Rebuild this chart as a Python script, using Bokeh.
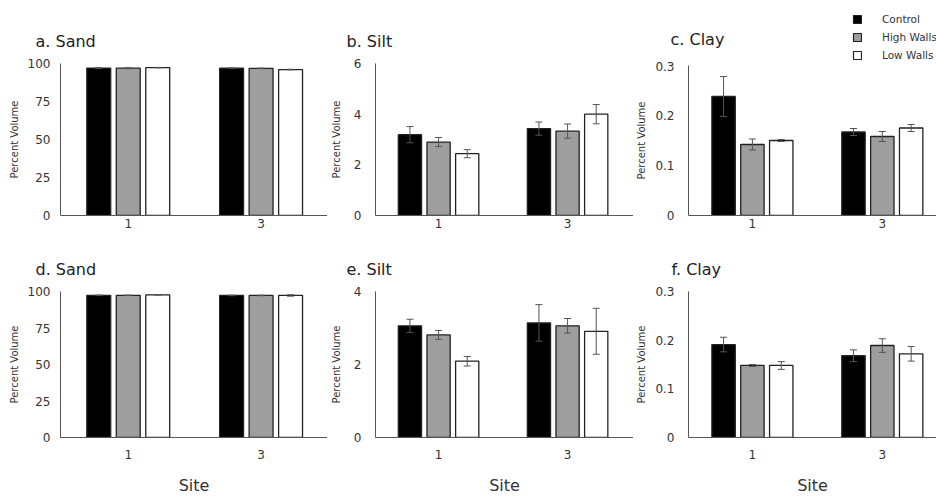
from bokeh.plotting import figure
from bokeh.layouts import column, row
from bokeh.models import (ColumnDataSource, Whisker, TeeHead, FixedTicker, Range1d,
                          Legend, LegendItem, NumeralTickFormatter, Label)
from bokeh.embed import file_html
from bokeh.resources import INLINE

# ---------------- data ----------------
sites = ["1", "3"]
treatments = ["Control", "High Walls", "Low Walls"]
fills = ["#000000", "#9e9e9e", "#ffffff"]

# order: site 1 (Control, High, Low), site 3 (Control, High, Low)
a_sand_mean = [97.0, 96.9, 97.3, 96.9, 96.8, 96.0]
a_sand_err = [0.3, 0.3, 0.15, 0.3, 0.2, 0.2]
b_silt_mean = [3.19, 2.90, 2.44, 3.43, 3.33, 4.00]
b_silt_err = [0.32, 0.18, 0.16, 0.26, 0.28, 0.38]
c_clay_mean = [0.238, 0.142, 0.150, 0.167, 0.158, 0.175]
c_clay_err = [0.040, 0.011, 0.002, 0.007, 0.010, 0.007]
d_sand_mean = [97.4, 97.4, 97.7, 97.3, 97.3, 97.3]
d_sand_err = [0.2, 0.15, 0.1, 0.2, 0.2, 0.5]
e_silt_mean = [3.06, 2.81, 2.09, 3.14, 3.06, 2.91]
e_silt_err = [0.18, 0.12, 0.13, 0.50, 0.20, 0.63]
f_clay_mean = [0.191, 0.148, 0.148, 0.168, 0.189, 0.172]
f_clay_err = [0.015, 0.002, 0.008, 0.012, 0.014, 0.015]

FONT = "DejaVu Sans"
TXT = "#333333"
TITLE_C = "#222222"
EDGE = "#222222"
ERR = "#555555"


def panel(title, means, errs, ymax, yticks, width, border_left, x_range,
          borders, title_offset, ylabel_standoff, tick_standoff, fmt=None,
          show_site=False, x_standoff=3):
    bt, fh, bb = borders
    p = figure(width=width, height=bt + fh + bb, output_backend="svg",
               toolbar_location=None, x_range=Range1d(*x_range),
               y_range=Range1d(0, ymax), min_border=0,
               min_border_left=border_left, min_border_right=0,
               min_border_top=bt, min_border_bottom=bb,
               title_location="above" if title else None)
    p.outline_line_color = None
    p.grid.visible = False
    p.background_fill_color = "white"
    p.border_fill_color = "white"

    for j, t in enumerate(treatments):
        xs, ys, up, lo = [], [], [], []
        for i in range(len(sites)):
            k = i * len(treatments) + j
            xs.append(i + 1 + (j - 1) * 0.222)
            ys.append(means[k])
            up.append(means[k] + errs[k])
            lo.append(means[k] - errs[k])
        src = ColumnDataSource(dict(x=xs, top=ys, upper=up, lower=lo))
        p.vbar(x="x", top="top", width=0.18, source=src,
               fill_color=fills[j], line_color=EDGE, line_width=1.3)
        w = Whisker(base="x", upper="upper", lower="lower", source=src,
                    line_color=ERR, line_width=1, level="overlay",
                    upper_head=TeeHead(size=7, line_color=ERR, line_width=1),
                    lower_head=TeeHead(size=7, line_color=ERR, line_width=1))
        p.add_layout(w)

    if title:
        p.title.text = title
        p.title.text_font = FONT
        p.title.text_font_size = "16px"
        p.title.text_font_style = "normal"
        p.title.text_color = TITLE_C
        p.title.align = "left"
        p.title.offset = title_offset
        p.title.standoff = 25

    # x axis
    xa = p.xaxis[0]
    xa.ticker = FixedTicker(ticks=[i + 1 for i in range(len(sites))])
    xa.major_label_overrides = {i + 1: s for i, s in enumerate(sites)}
    xa.major_tick_out = 0
    xa.major_tick_in = 0
    xa.minor_tick_out = 0
    xa.minor_tick_in = 0
    xa.axis_line_color = "#555555"
    xa.major_label_text_font = FONT
    xa.major_label_text_font_size = "12px"
    xa.major_label_text_color = TXT
    xa.major_label_standoff = x_standoff
    if show_site:
        xa.axis_label = "Site"
        xa.axis_label_text_font = FONT
        xa.axis_label_text_font_size = "16px"
        xa.axis_label_text_font_style = "normal"
        xa.axis_label_text_color = TXT
        xa.axis_label_standoff = 14

    # y axis
    ya = p.yaxis[0]
    ya.ticker = FixedTicker(ticks=yticks)
    if fmt:
        ya.formatter = NumeralTickFormatter(format=fmt)
    ya.major_tick_out = 0
    ya.major_tick_in = 0
    ya.minor_tick_out = 0
    ya.minor_tick_in = 0
    ya.axis_line_color = "#555555"
    ya.major_label_text_font = FONT
    ya.major_label_text_font_size = "12px"
    ya.major_label_text_color = TXT
    ya.major_label_standoff = tick_standoff
    ya.axis_label = "Percent Volume"
    ya.axis_label_text_font = FONT
    ya.axis_label_text_font_size = "10px"
    ya.axis_label_text_font_style = "normal"
    ya.axis_label_text_color = TXT
    ya.axis_label_standoff = ylabel_standoff
    return p


rng_a = (0.49, 2.5)
rng_b = (0.511, 2.511)
rng_c = (0.508, 2.417)
TOP = (63, 152, 30)
BOT = (44, 148, 60)
STRIP_H = 61

pa = panel("a. Sand", a_sand_mean, a_sand_err, 100, [0, 25, 50, 75, 100], 327, 60, rng_a,
           TOP, -25, 5, 10)
pb = panel("b. Silt", b_silt_mean, b_silt_err, 6, [0, 2, 4, 6], 306, 44, rng_b,
           TOP, -29, 9, 14)
pc = panel(None, c_clay_mean, c_clay_err, 0.3, [0, 0.1, 0.2, 0.3], 303, 51, rng_c,
           (65 - STRIP_H, 150, 30), 0, 5, 14, fmt="0.[0]")
pd = panel("d. Sand", d_sand_mean, d_sand_err, 100, [0, 25, 50, 75, 100], 327, 60, rng_a,
           BOT, -25, 5, 10, show_site=True, x_standoff=12)
pe = panel("e. Silt", e_silt_mean, e_silt_err, 4, [0, 2, 4], 306, 44, rng_b,
           BOT, -29, 9, 14, show_site=True, x_standoff=12)
pf = panel("f. Clay", f_clay_mean, f_clay_err, 0.3, [0, 0.1, 0.2, 0.3], 303, 51, rng_c,
           BOT, -17, 5, 14, fmt="0.[0]", show_site=True, x_standoff=12)

# strip above panel c: holds its title and the legend
strip = figure(width=303, height=STRIP_H, output_backend="svg", toolbar_location=None,
               x_range=Range1d(0, 303), y_range=Range1d(0, STRIP_H), min_border=0,
               x_axis_location=None, y_axis_location=None, title_location=None)
strip.outline_line_color = None
strip.grid.visible = False
strip.background_fill_color = "white"
strip.border_fill_color = "white"
strip.add_layout(Label(x=37, y=STRIP_H - 39, text="c. Clay", text_font=FONT,
                       text_font_size="16px", text_color=TITLE_C,
                       text_baseline="alphabetic", text_align="left"))
nan = float("nan")
items = []
for j, t in enumerate(treatments):
    r = strip.vbar(x=[nan], top=[nan], width=1, fill_color=fills[j],
                   line_color=EDGE, line_width=1.2)
    items.append(LegendItem(label=t, renderers=[r]))
lg = Legend(items=items, location=(219, 0), orientation="vertical",
            glyph_width=10, glyph_height=10, label_height=9,
            spacing=6, padding=0, margin=0, border_line_color=None,
            background_fill_alpha=0, label_standoff=20,
            label_text_font=FONT, label_text_font_size="10.5px",
            label_text_color=TXT)
strip.add_layout(lg)

col_c = column(column(strip), column(pc))
layout = column(row(pa, pb, col_c), row(pd, pe, pf))

open("out.html", "w").write(file_html(layout, INLINE))
